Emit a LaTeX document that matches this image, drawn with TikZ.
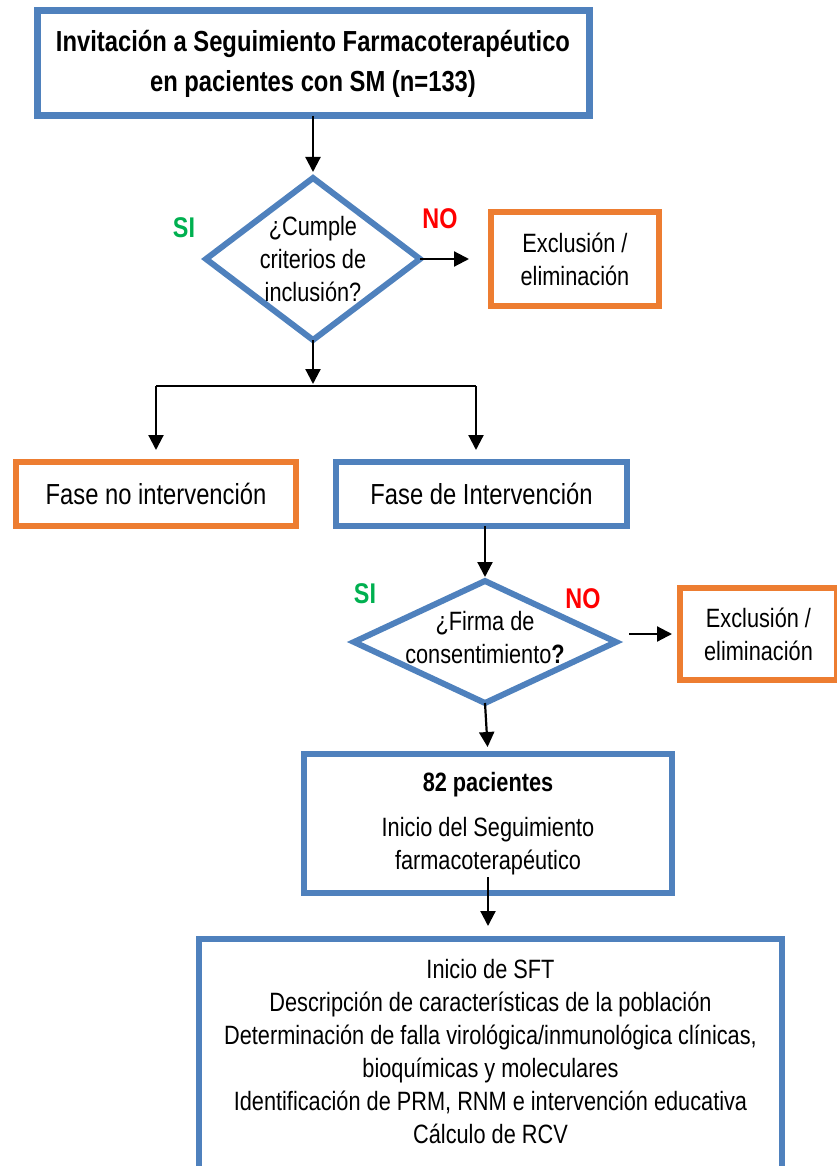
\documentclass[tikz,border=0pt]{standalone}
\usepackage{fontspec}
\setmainfont{Liberation Sans}[FakeStretch=0.82]
\usepackage{xcolor}
\usepackage{tikz}
\usetikzlibrary{arrows.meta,positioning,shapes.geometric}
\definecolor{smblue}{HTML}{4F81BD}
\definecolor{smorange}{HTML}{ED7D31}
\definecolor{sigreen}{HTML}{00B050}
\definecolor{nored}{HTML}{FF0000}
\newcommand{\bodyfont}{\fontsize{26.5pt}{33pt}\selectfont}
\newcommand{\fasefont}{\fontsize{29pt}{35pt}\selectfont}

\begin{document}
\begin{tikzpicture}[
    x=1pt, y=1pt,
    box/.style={rectangle, draw=#1, line width=6pt, outer sep=0pt,
                align=center, font=\bodyfont},
    decision/.style={diamond, draw=smblue, line width=6pt, outer sep=0pt,
                inner sep=0pt},
    qtext/.style={font=\bodyfont, align=center},
    arrow/.style={-{Triangle[length=15pt,width=15pt]}, line width=2.2pt},
    answer/.style={font=\fontsize{28.5pt}{30pt}\selectfont\bfseries, text=#1},
]
    \useasboundingbox (0,0) rectangle (836,-1166);

    % Invitation
    \node[box=smblue, line width=7pt, minimum width=552pt, minimum height=105pt,
          font=\fontsize{29pt}{40pt}\selectfont\bfseries] (invite) at (313,-63.5)
        {Invitación a Seguimiento Farmacoterapéutico\\en pacientes con SM (n=133)};

    % First decision
    \node[decision, minimum width=214pt, minimum height=162pt, below=62pt of invite,
          label={[qtext]center:{¿Cumple\\criterios de\\inclusión?}}] (crit) {};
    \node[box=smorange, minimum width=168pt, minimum height=94pt, right=71pt of crit]
        (excl1) {Exclusión /\\eliminación};
    \node[answer=sigreen] (si1) at ([xshift=-129pt, yshift=31pt]crit.center) {SI};
    \node[answer=nored] (no1) at ([xshift=127pt, yshift=40pt]crit.center) {NO};

    % Split
    \coordinate (split) at ([yshift=-46pt]crit.south);
    \coordinate[left=157pt of split] (splitL);
    \coordinate[right=163pt of split] (splitR);

    % Phases
    \node[box=smorange, minimum width=280pt, minimum height=64pt, font=\fasefont,
          below=76pt of splitL] (nointer) {Fase no intervención};
    \node[box=smblue, minimum width=291pt, minimum height=64pt, font=\fasefont,
          below=76pt of splitR, xshift=5.5pt] (inter) {Fase de Intervención};

    % Second decision
    \node[decision, minimum width=262pt, minimum height=122pt, below=55pt of inter,
          xshift=3.5pt,
          label={[qtext, yshift=4pt]center:{¿Firma de\\consentimiento\textbf{?}}}] (firma) {};
    \node[box=smorange, minimum width=157pt, minimum height=92pt,
          right=64pt of firma, yshift=8pt] (excl2) {Exclusión /\\eliminación};
    \node[answer=sigreen] (si2) at ([xshift=-120pt, yshift=48pt]firma.center) {SI};
    \node[answer=nored] (no2) at ([xshift=98pt, yshift=43pt]firma.center) {NO};

    % Follow-up
    \node[box=smblue, minimum width=368pt, minimum height=139pt, below=51pt of firma,
          xshift=3pt] (pac)
        {\textbf{82 pacientes}\\[12pt]Inicio del Seguimiento\\farmacoterapéutico};
    \node[box=smblue, minimum width=583pt, minimum height=236pt, below=46pt of pac,
          xshift=2.5pt,
          label={[qtext, yshift=5.5pt]center:{Inicio de SFT\\
            Descripción de características de la población\\
            Determinación de falla virológica/inmunológica clínicas,\\
            bioquímicas y moleculares\\
            Identificación de PRM, RNM e intervención educativa\\
            Cálculo de RCV}}] (sft) {};

    % Arrows
    \draw[arrow, shorten >=6pt] (invite.south) -- (crit.north);
    \draw[arrow, shorten >=22pt] (crit.east) -- (excl1.west);
    \draw[arrow, shorten >=2pt] (crit.south) -- (split);
    \draw[line width=2.2pt] (splitL) -- (splitR);
    \draw[arrow, shorten >=12pt] (splitL) -- (nointer.north);
    \draw[arrow, shorten >=12pt] (splitR) -- (splitR |- inter.north);
    \draw[arrow, shorten >=4pt] (firma.north |- inter.south) -- (firma.north);
    \draw[arrow, shorten >=8pt] ([xshift=13pt]firma.east |- excl2.west) -- (excl2.west);
    \draw[arrow, shorten >=7pt] (firma.south) -- (pac.north);
    \draw[arrow, shorten >=13pt] ([yshift=16pt]pac.south) -- (pac.south |- sft.north);
\end{tikzpicture}
\end{document}
